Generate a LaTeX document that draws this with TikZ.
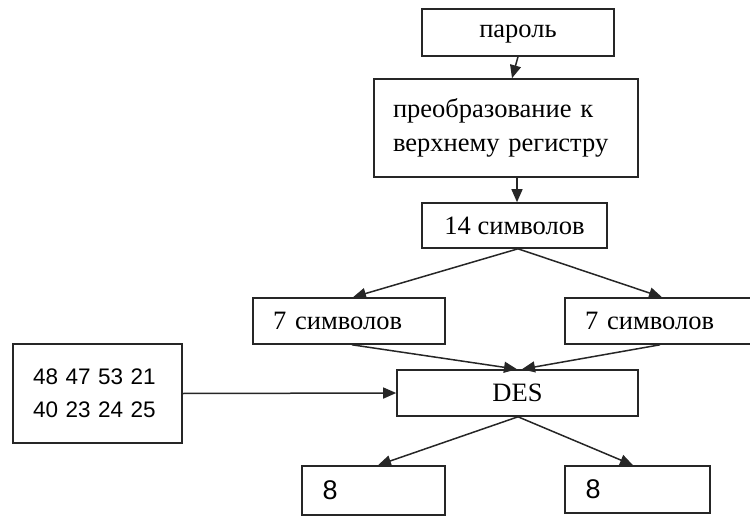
\documentclass[tikz,border=0pt]{standalone}
\usepackage{fontspec}
\setmainfont{Liberation Serif}
\newfontfamily\numfont{Liberation Sans}
\usetikzlibrary{arrows.meta}
\tikzset{
  box/.style={draw=black!85, line width=1.6pt, fill=white, inner sep=0pt, font=\fontsize{26.5}{34}\selectfont},
  cbox/.style={box},
  lbox/.style={box, align=left},
  arr/.style={draw=black!85, line width=1.5pt, -{Triangle[length=13pt,width=11pt]}}
}
\begin{document}
\begin{tikzpicture}[x=1pt,y=-1pt]
\useasboundingbox (0,0) rectangle (750,516);
\node[cbox, minimum width=192pt, minimum height=47pt, text height=12pt, text depth=1pt] (pw) at (518,32.5) {пароль};
\node[lbox, text width=226pt, inner xsep=19pt, minimum height=98pt] (up) at (506,128) {преобразование к\\ верхнему регистру};
\node[cbox, minimum width=185pt, minimum height=45pt] (c14) at (514.5,225.5) {14 символов};
\node[lbox, text width=152pt, inner xsep=20pt, minimum height=46pt] (l7) at (349,321) {7 символов};
\node[lbox, text width=165pt, inner xsep=20pt, minimum height=46pt] (r7) at (667.5,321) {7 символов};
\node[cbox, minimum width=241pt, minimum height=46pt] (des) at (517.5,393) {DES};
\node[lbox, text width=129pt, inner xsep=20pt, minimum height=99pt, font=\numfont\fontsize{22.5}{33}\selectfont] (num) at (97.5,393.5) {48 47 53 21\\ 40 23 24 25};
\node[lbox, text width=102pt, inner xsep=20.5pt, minimum height=49pt, font=\numfont\fontsize{27}{33}\selectfont] (e1) at (373.5,490.5) {8};
\node[lbox, text width=104pt, inner xsep=20.5pt, minimum height=47pt, font=\numfont\fontsize{27}{33}\selectfont] (e2) at (637.5,489.5) {8};
\draw[arr] (pw.south) -- ([xshift=-6pt]up.north -| pw.south);
\draw[arr] ([xshift=11pt]up.south) -- ([xshift=2.5pt]c14.north);
\draw[arr] ([xshift=3.5pt]c14.south) -- ([xshift=4pt]l7.north);
\draw[arr] ([xshift=3.5pt]c14.south) -- ([xshift=-5.5pt]r7.north);
\draw[arr] ([xshift=3pt]l7.south) -- ([xshift=-0.5pt]des.north);
\draw[arr] ([xshift=-7.5pt]r7.south) -- ([xshift=4.5pt]des.north);
\draw[arr] (num.east) -- (des.west);
\draw[arr] ([xshift=0.5pt]des.south) -- ([xshift=4.5pt]e1.north);
\draw[arr] ([xshift=0.5pt]des.south) -- ([xshift=-4.5pt]e2.north);
\end{tikzpicture}
\end{document}
